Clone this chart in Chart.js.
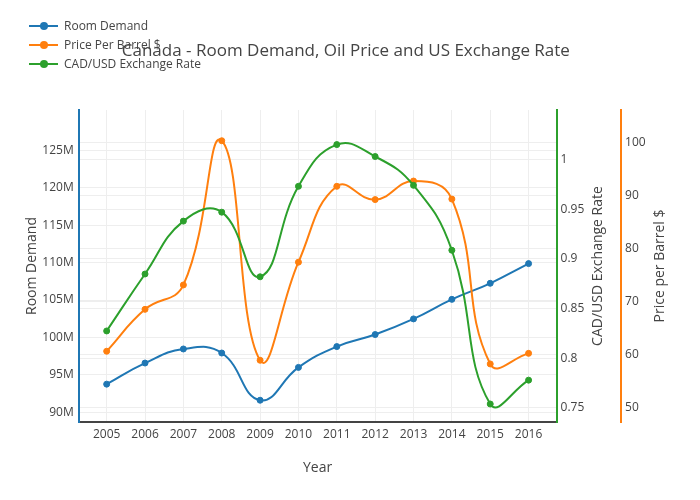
<!DOCTYPE html>
<html><head><meta charset="utf-8">
<script src="https://cdn.jsdelivr.net/npm/chart.js@4/dist/chart.umd.min.js"></script>
<style>
html,body{margin:0;padding:0;background:#fff;}
#wrap{position:relative;width:700px;height:500px;}
#legend{position:absolute;left:29px;top:16px;font:12px "Open Sans";color:#444;}
.item{height:19px;display:flex;align-items:center;white-space:nowrap;}
.sw{position:relative;width:29px;height:2px;margin-right:6px;}
.sw i{position:absolute;left:11px;top:-3px;width:8px;height:8px;border-radius:50%;}
</style></head><body>
<div id="wrap"><canvas id="c" width="700" height="500"></canvas><div id="legend"></div></div>
<script>
const years = [2005,2006,2007,2008,2009,2010,2011,2012,2013,2014,2015,2016];
const roomDemand = [93.76e6,96.58e6,98.46e6,97.92e6,91.61e6,96.0e6,98.78e6,100.39e6,102.48e6,105.09e6,107.24e6,109.87e6];
const oilPrice = [60.7,68.6,73.2,100.4,59.0,77.5,91.8,89.3,92.8,89.4,58.3,60.3];
const exchangeRate = [0.8275,0.8848,0.938,0.947,0.882,0.973,1.015,1.003,0.974,0.9087,0.754,0.778];
const roomTicks = [90e6,95e6,100e6,105e6,110e6,115e6,120e6,125e6];
const rateTicks = [0.75,0.8,0.85,0.9,0.95,1];
const priceTicks = [50,60,70,80,90,100];
const seriesNames = ['Room Demand','Price Per Barrel $','CAD/USD Exchange Rate'];
const colors = ['#1f77b4','#ff7f0e','#2ca02c'];

const font = 'Open Sans';
const txt = '#444';
const grid = '#eeeeee';
const pts = arr => arr.map((v,i)=>({x:years[i], y:v}));
function ds(label, data, color, axis, order){
  return {label, data: pts(data), yAxisID: axis, borderColor: color, backgroundColor: color,
    borderWidth: 2, pointRadius: 3, pointBorderWidth: 1, pointHoverRadius: 3, tension: 0.45, fill:false, order};
}
const setTicks = list => s => { s.ticks = list.map(v=>({value:v})); };

// Right-hand axis titles read bottom-to-top, as in the reference
const rightTitles = {
  id: 'rightTitles',
  afterDraw(chart) {
    const ctx = chart.ctx, ca = chart.chartArea;
    ['y2','y3'].forEach(id => {
      const s = chart.scales[id];
      const t = s.options.title;
      const x = s.right - t.padding.top - 8.4;
      const y = (ca.top + ca.bottom) / 2;
      ctx.save();
      ctx.translate(x, y);
      ctx.rotate(-Math.PI/2);
      ctx.font = '14px "Open Sans"';
      ctx.fillStyle = txt;
      ctx.textAlign = 'center';
      ctx.textBaseline = 'middle';
      ctx.fillText(t.realText, 0, 0);
      ctx.restore();
    });
  }
};

new Chart(document.getElementById('c'), {
  type: 'line',
  data: { datasets: [
    ds(seriesNames[0], roomDemand, colors[0], 'y', 2),
    ds(seriesNames[1], oilPrice, colors[1], 'y3', 1),
    ds(seriesNames[2], exchangeRate, colors[2], 'y2', 0)
  ]},
  plugins: [rightTitles],
  options: {
    responsive: false, animation: false,
    layout: { padding: { left: 19.3, right: 27.6, top: 0, bottom: 19.3 } },
    plugins: {
      legend: { display: false },
      tooltip: { enabled: false },
      title: { display: true, text: 'Canada - Room Demand, Oil Price and US Exchange Rate',
        color: txt, font: { family: font, size: 17, weight: 'normal' }, padding: { top: 40.8, bottom: 48.8 } }
    },
    scales: {
      x: { type: 'linear', min: 2004.27, max: 2016.73, afterBuildTicks: setTicks(years),
        grid: { color: grid, drawTicks: false }, border: { color: '#444', width: 2 },
        ticks: { color: txt, font: { family: font, size: 12 }, padding: 5, callback: v => String(v), maxRotation: 0 },
        title: { display: true, text: 'Year', color: txt, font: { family: font, size: 14 }, padding: { top: 13.5, bottom: 4 } } },
      y: { position: 'left', min: 88.7e6, max: 130.4e6, afterBuildTicks: setTicks(roomTicks),
        grid: { color: grid, drawTicks: false }, border: { color: colors[0], width: 2 },
        ticks: { color: txt, font: { family: font, size: 12 }, padding: 5, callback: v => (v/1e6) + 'M' },
        title: { display: true, text: 'Room Demand', color: txt, font: { family: font, size: 14 }, padding: { top: 4, bottom: -2.8 } } },
      y2: { position: 'right', min: 0.7359, max: 1.0498, afterBuildTicks: setTicks(rateTicks),
        grid: { color: grid, drawTicks: false }, border: { color: colors[2], width: 2 },
        ticks: { color: txt, font: { family: font, size: 12 }, padding: 4, callback: v => String(+v.toFixed(2)) },
        title: { display: true, text: 'CAD/USD Exchange Rate', realText: 'CAD/USD Exchange Rate', color: 'rgba(0,0,0,0)', font: { family: font, size: 14 }, padding: { top: 14.9, bottom: 1 } } },
      y3: { position: 'right', min: 47.35, max: 106.2, afterBuildTicks: setTicks(priceTicks),
        grid: { color: grid, drawTicks: false }, border: { color: colors[1], width: 2 },
        ticks: { color: txt, font: { family: font, size: 12 }, padding: 4, callback: v => String(v) },
        title: { display: true, text: 'Price per Barrel $', realText: 'Price per Barrel $', color: 'rgba(0,0,0,0)', font: { family: font, size: 14 }, padding: { top: 4, bottom: 2 } } }
    }
  }
});

const lg = document.getElementById('legend');
seriesNames.forEach((n,i)=>{
  const d = document.createElement('div'); d.className='item';
  d.innerHTML = '<span class="sw" style="background:'+colors[i]+'"><i style="background:'+colors[i]+'"></i></span><span>'+n+'</span>';
  lg.appendChild(d);
});
</script>
</body></html>
